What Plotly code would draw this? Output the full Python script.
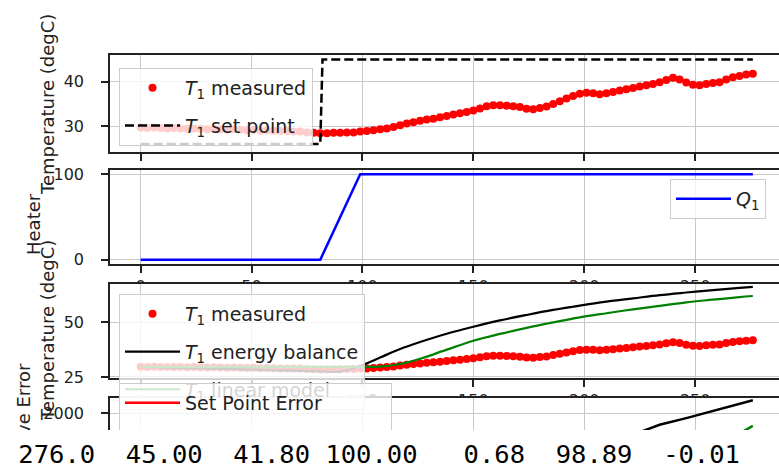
import plotly.graph_objects as go

W, H = 779, 467

# ---------------- data ----------------
t_meas = list(range(0, 277, 3))
T1_meas = [29.7, 29.6, 29.7, 29.6, 29.5, 29.6, 29.5, 29.4, 29.5, 29.4,
           29.3, 29.4, 29.3, 29.2, 29.3, 29.2, 29.1, 29.2, 29.0, 29.1,
           29.0, 28.9, 28.9, 28.8, 28.8, 28.6, 28.5, 28.4, 28.4, 28.5,
           28.5, 28.6, 28.6, 28.8, 28.9, 29.1, 29.3, 29.5, 29.8, 30.2,
           30.6, 30.9, 31.2, 31.5, 31.7, 32.0, 32.3, 32.6, 32.9, 33.2,
           33.5, 34.0, 34.5, 34.7, 34.7, 34.6, 34.5, 34.3, 33.9, 33.8,
           34.1, 34.4, 35.0, 35.6, 36.2, 36.8, 37.3, 37.5, 37.4, 37.2,
           37.4, 37.7, 38.0, 38.3, 38.6, 38.9, 39.2, 39.5, 39.9, 40.4,
           40.9, 40.5, 39.8, 39.3, 39.2, 39.5, 39.7, 39.9, 40.5, 41.0,
           41.3, 41.6, 41.8]

t_sp = [0, 81, 82, 276]
T1_sp = [26.0, 26.0, 45, 45]

t_q = [0, 81, 99, 276]
Q1 = [0, 0, 100, 100]

t_model = [0, 12, 24, 36, 48, 60, 72, 81, 90, 99, 108, 117, 126, 138, 150,
           162, 174, 186, 198, 210, 222, 234, 246, 258, 270, 276]
T1_eb = [29.6, 29.3, 29.0, 28.7, 28.4, 28.1, 27.8, 27.6, 27.4, 30.0, 33.9,
         37.8, 41.0, 44.8, 48.0, 50.9, 53.4, 55.7, 57.7, 59.5, 61.0, 62.5,
         63.7, 64.8, 65.8, 66.3]
T1_lin = [29.6, 29.6, 29.6, 29.6, 29.6, 29.6, 29.6, 29.6, 29.6, 29.6, 29.7,
          30.9, 33.3, 37.5, 41.6, 44.7, 47.5, 50.0, 52.3, 54.2, 56.0, 57.6,
          59.2, 60.4, 61.6, 62.1]

t_err = [0, 24, 48, 72, 96, 120, 144, 168, 192, 216, 234, 246, 258, 270, 276]
err_sp = [0, 100, 200, 300, 380, 480, 620, 770, 900, 1010, 1080, 1130, 1180, 1220, 1240]
err_eb = [0, 20, 45, 75, 100, 160, 330, 570, 870, 1280, 1690, 1870, 2060, 2260, 2360]
err_lin = [0, 5, 10, 15, 20, 40, 120, 280, 480, 720, 920, 1080, 1250, 1450, 1660]

final_row = [276.0, 45.00, 41.80, 100.00, 0.68, 98.89, -0.01]
final_fmt = ['{:6.1f}', '{:6.2f}', '{:6.2f}', '{:6.2f}', '{:6.2f}', '{:6.2f}', '{:6.2f}']

# ---------------- helpers ----------------
def px(x):
    return x / W


def py(y):
    return 1 - y / H


T1 = '<i>T</i><sub>1</sub>'
FONT = 'DejaVu Sans'
INK = '#222222'
MS = 8

fig = go.Figure()

# panel 1
fig.add_trace(go.Scatter(x=t_meas, y=T1_meas, mode='markers', marker=dict(color='red', size=MS),
                         name=T1 + ' measured', xaxis='x', yaxis='y', legend='legend', legendgroup='a1'))
fig.add_trace(go.Scatter(x=t_sp, y=T1_sp, mode='lines', line=dict(color='black', width=2.5, dash='9px,4px'),
                         name=T1 + ' set point', xaxis='x', yaxis='y', legend='legend', legendgroup='a2'))
# panel 2
fig.add_trace(go.Scatter(x=t_q, y=Q1, mode='lines', line=dict(color='blue', width=2.5),
                         name='<i>Q</i><sub>1</sub>', xaxis='x2', yaxis='y2', legend='legend2', legendgroup='b1'))
# panel 3
fig.add_trace(go.Scatter(x=t_meas, y=T1_meas, mode='markers', marker=dict(color='red', size=MS),
                         name=T1 + ' measured', xaxis='x3', yaxis='y3', legend='legend3', legendgroup='c1'))
fig.add_trace(go.Scatter(x=t_model, y=T1_eb, mode='lines', line=dict(color='black', width=2.2, shape='spline'),
                         name=T1 + ' energy balance', xaxis='x3', yaxis='y3', legend='legend3', legendgroup='c2'))
fig.add_trace(go.Scatter(x=t_model, y=T1_lin, mode='lines', line=dict(color='green', width=2.2, shape='spline'),
                         name=T1 + ' linear model', xaxis='x3', yaxis='y3', legend='legend3', legendgroup='c3'))
# panel 4
fig.add_trace(go.Scatter(x=t_err, y=err_sp, mode='lines', line=dict(color='red', width=2.5),
                         name='Set Point Error', xaxis='x4', yaxis='y4', legend='legend4', legendgroup='d1'))
fig.add_trace(go.Scatter(x=t_err, y=err_eb, mode='lines', line=dict(color='black', width=2.5),
                         name='Energy Balance Error', xaxis='x4', yaxis='y4', legend='legend4', legendgroup='d2'))
fig.add_trace(go.Scatter(x=t_err, y=err_lin, mode='lines', line=dict(color='green', width=2.5),
                         name='Linear Model Error', xaxis='x4', yaxis='y4', legend='legend4', legendgroup='d3'))

tickfont = dict(family=FONT, size=16, color=INK)
xcommon = dict(range=[-13.8, 287.8], domain=[px(110), 1], tick0=0, dtick=50,
               showgrid=True, gridcolor='#c8c8c8', gridwidth=1, zeroline=False,
               showline=True, mirror=True, linecolor=INK, linewidth=1.5, automargin=False,
               ticks='outside', ticklen=7, tickwidth=1.5, tickcolor=INK, tickfont=tickfont)
ycommon = dict(showgrid=True, gridcolor='#c8c8c8', gridwidth=1, zeroline=False,
               showline=True, mirror=False, linecolor=INK, linewidth=1.5, automargin=False,
               ticks='outside', ticklen=7, tickwidth=1.5, tickcolor=INK, tickfont=tickfont,
               ticklabelstandoff=14)

# bottom panel is cut off by the printed output line below the figure
panels = [(55, 152), (170, 264), (284, 378), (398, 430)]
yranges = [[24.2, 46.0], [-5, 105], [24.5, 67.6], [1546, 2420]]
yticks = [[30, 40], [0, 100], [25, 50], [2000]]

layout = dict(width=W, height=H, margin=dict(l=0, r=0, t=0, b=0, pad=0, autoexpand=False),
              paper_bgcolor='white', plot_bgcolor='white', showlegend=True)
for i in range(4):
    k = '' if i == 0 else str(i + 1)
    layout['xaxis' + k] = dict(xcommon, anchor='y' + k)
    layout['yaxis' + k] = dict(ycommon, anchor='x' + k,
                               domain=[py(panels[i][1]), py(panels[i][0])],
                               range=yranges[i], tickvals=yticks[i])
layout['xaxis4'].update(side='top', mirror=False, ticks='', showticklabels=False)

legcommon = dict(bgcolor='rgba(255,255,255,0.8)', bordercolor='#cccccc', borderwidth=1,
                 font=dict(family=FONT, size=19, color=INK), xanchor='left', yanchor='top',
                 tracegroupgap=10, itemwidth=55)
layout['legend'] = dict(legcommon, x=px(119), y=py(68))
layout['legend2'] = dict(legcommon, x=px(670), y=py(179))
layout['legend3'] = dict(legcommon, x=px(119), y=py(294))
layout['legend4'] = dict(legcommon, x=px(119), y=py(383))
fig.update_layout(**layout)

# later axes hide tick labels of the axes above them (like overlapping matplotlib axes)
for k in ['2', '3', '4']:
    fig.add_shape(type='rect', xref='x' + k, yref='y' + k, x0=-1000, x1=1000, y0=-1e5, y1=1e5,
                  layer='below', fillcolor='white', line=dict(width=0))
# the printed output line below the figure hides the rest of the bottom panel
fig.add_shape(type='rect', xref='paper', yref='paper', x0=0, x1=1, y0=-0.05, y1=py(430),
              layer='above', fillcolor='white', line=dict(width=0))

titlefont = dict(family=FONT, size=18, color=INK)
titles = [('Temperature (degC)', 47, 105), ('Heater', 33, 224),
          ('Temperature (degC)', 47, 331), ('Cumulative Error', 23, 440)]
for txt, xc, yc in titles:
    fig.add_annotation(x=px(xc), y=py(yc), xref='paper', yref='paper', text=txt, textangle=-90,
                       showarrow=False, xanchor='center', yanchor='middle', font=titlefont)

row_text = ' '.join(f.format(v) for f, v in zip(final_fmt, final_row)).replace(' ', '\u00a0')
fig.add_annotation(x=0, y=-5 / H, xref='paper', yref='paper', xanchor='left', yanchor='bottom',
                   text=row_text, showarrow=False, width=773, height=36, borderpad=3, borderwidth=0,
                   align='left', valign='bottom', bgcolor='white',
                   font=dict(family='DejaVu Sans Mono', size=25.5, color='black'))

fig.write_html('out.html', config={'displayModeBar': False},
               post_script="document.body.style.margin='0px';")
